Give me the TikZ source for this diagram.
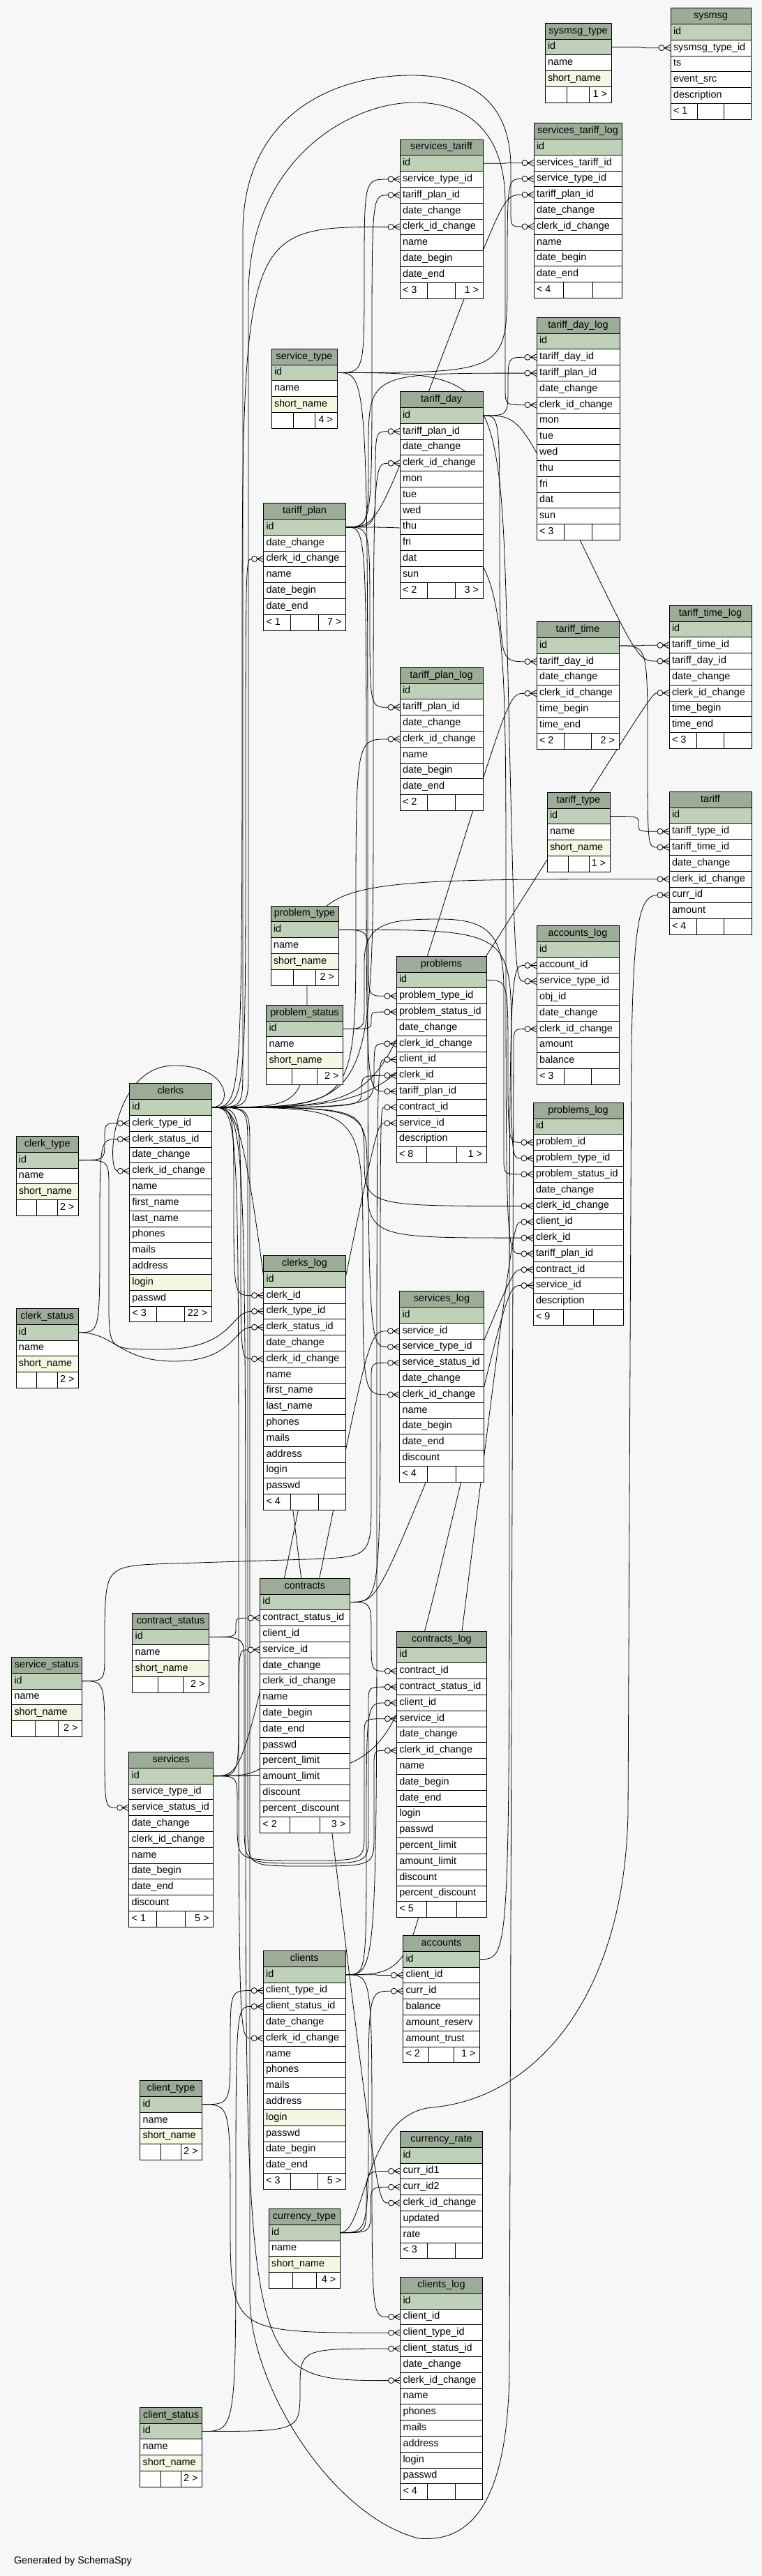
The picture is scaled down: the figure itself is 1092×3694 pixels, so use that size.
\documentclass[tikz,border=0pt]{standalone}
\usepackage{fontspec}
\setmainfont{Liberation Sans}
\usetikzlibrary{calc}
\definecolor{headcol}{HTML}{9DAC98}
\definecolor{keycol}{HTML}{BFD1B9}
\definecolor{ucol}{HTML}{F4F7E1}
\definecolor{bgcol}{HTML}{F7F7F7}
\pgfdeclarelayer{bgl}
\pgfdeclarelayer{edges}
\pgfsetlayers{bgl,edges,main}
\def\ukey{u}
\newcommand\dbtable[7]{%
  \node[tabhead,minimum width=#4] (#1) at (#2,#3) {\hbox to #4pt{\hfil\strut #1\hfil}};
  \foreach \fld/\knd [count=\i] in {#5}{%
    \edef\rowkind{\knd}%
    \ifnum\i=1 \def\rowfill{keycol}\else\ifx\rowkind\ukey\def\rowfill{ucol}\else\def\rowfill{white}\fi\fi
    \node[tabcell,fill=\rowfill,minimum width=#4] (#1-\fld) at (#2,{#3+\i*22.8}) {\hbox to #4pt{\strut\hskip4pt\fld\hfil}};
    \xdef\nrows{\i}}
  \pgfmathsetmacro\cw{#4/3}
  \pgfmathsetmacro\fy{#3+(\nrows+1)*22.8}
  \node[tabcell,minimum width=\cw] (#1-fl) at (#2,\fy) {\hbox to \cw pt{\strut\hskip4pt #6\hfil}};
  \node[tabcell,minimum width=\cw] (#1-fm) at ({#2+\cw},\fy) {};
  \node[tabcell,minimum width=\cw] (#1-fr) at ({#2+2*\cw},\fy) {\hbox to \cw pt{\strut\hfil #7\hskip6pt}};
}
\newcommand\crowmark[1]{%
  \draw[fkline] (#1.west) ++(-9,0) -- ++(9,-4.5) ++(-9,4.5) -- ++(9,0) ++(-9,0) -- ++(9,4.5);
  \draw[fkline,fill=bgcol] (#1.west) ++(-13,0) circle (4);}
\newcommand\fklink[4]{%
  \draw[fkline] let \p1=(#1-id.east), \p2=(#2.west) in
    (\p1) .. controls (#3pt,\y1) .. ({(#3+#4)/2*1pt},{(\y1+\y2)/2})
    .. controls (#4pt,\y2) .. ({\x2-17pt},\y2);
  \crowmark{#2}}

\begin{document}
\catcode`\_=12
\begin{tikzpicture}[x=1pt,y=-1pt,font=\fontsize{14.4}{17}\selectfont,
  tabcell/.style={draw,fill=white,line width=1pt,inner sep=0pt,outer sep=0pt,minimum height=22.8,anchor=north west},
  tabhead/.style={tabcell,fill=headcol},
  fkline/.style={line width=0.8pt}]
\useasboundingbox (0,0) rectangle (1092,3694);

\dbtable{sysmsg_type}{781}{33.3}{95}{id,name,short_name/u}{}{1 >}
\dbtable{sysmsg}{961}{11.7}{115}{id,sysmsg_type_id,ts,event_src,description}{< 1}{}
\dbtable{services_tariff}{573}{200}{119}{id,service_type_id,tariff_plan_id,date_change,clerk_id_change,name,date_begin,date_end}{< 3}{1 >}
\dbtable{services_tariff_log}{765}{176.7}{126}{id,services_tariff_id,service_type_id,tariff_plan_id,date_change,clerk_id_change,name,date_begin,date_end}{< 4}{}
\dbtable{tariff_day_log}{769}{455.3}{119}{id,tariff_day_id,tariff_plan_id,date_change,clerk_id_change,mon,tue,wed,thu,fri,dat,sun}{< 3}{}
\dbtable{service_type}{389}{500.3}{94}{id,name,short_name/u}{}{4 >}
\dbtable{tariff_day}{573}{561.7}{119}{id,tariff_plan_id,date_change,clerk_id_change,mon,tue,wed,thu,fri,dat,sun}{< 2}{3 >}
\dbtable{tariff_plan}{377.5}{721.7}{118}{id,date_change,clerk_id_change,name,date_begin,date_end}{< 1}{7 >}
\dbtable{tariff_time}{769}{891.7}{118}{id,tariff_day_id,date_change,clerk_id_change,time_begin,time_end}{< 2}{2 >}
\dbtable{tariff_time_log}{959}{868.3}{118}{id,tariff_time_id,tariff_day_id,date_change,clerk_id_change,time_begin,time_end}{< 3}{}
\dbtable{tariff_plan_log}{573}{957.3}{119}{id,tariff_plan_id,date_change,clerk_id_change,name,date_begin,date_end}{< 2}{}
\dbtable{tariff_type}{784}{1136.3}{90}{id,name,short_name/u}{}{1 >}
\dbtable{tariff}{959}{1135.3}{118}{id,tariff_type_id,tariff_time_id,date_change,clerk_id_change,curr_id,amount}{< 4}{}
\dbtable{problem_type}{388}{1299}{97}{id,name,short_name/u}{}{2 >}
\dbtable{problem_status}{381.5}{1441.3}{110}{id,name,short_name/u}{}{2 >}
\dbtable{problems}{568}{1371.3}{129}{id,problem_type_id,problem_status_id,date_change,clerk_id_change,client_id,clerk_id,tariff_plan_id,contract_id,service_id,description}{< 8}{1 >}
\dbtable{accounts_log}{769}{1327.4}{118}{id,account_id,service_type_id,obj_id,date_change,clerk_id_change,amount,balance}{< 3}{}
\dbtable{problems_log}{764}{1581.3}{129}{id,problem_id,problem_type_id,problem_status_id,date_change,clerk_id_change,client_id,clerk_id,tariff_plan_id,contract_id,service_id,description}{< 9}{}
\dbtable{clerk_type}{23}{1629.4}{89.5}{id,name,short_name/u}{}{2 >}
\dbtable{clerks}{185.4}{1553.8}{118}{id,clerk_type_id,clerk_status_id,date_change,clerk_id_change,name,first_name,last_name,phones,mails,address,login/u,passwd}{< 3}{22 >}
\dbtable{clerk_status}{23}{1876.5}{89.5}{id,name,short_name/u}{}{2 >}
\dbtable{clerks_log}{377.5}{1800.6}{118}{id,clerk_id,clerk_type_id,clerk_status_id,date_change,clerk_id_change,name,first_name,last_name,phones,mails,address,login,passwd}{< 4}{}
\dbtable{services_log}{572.5}{1851.7}{121}{id,service_id,service_type_id,service_status_id,date_change,clerk_id_change,name,date_begin,date_end,discount}{< 4}{}
\dbtable{contracts}{372.4}{2263.2}{129}{id,contract_status_id,client_id,service_id,date_change,clerk_id_change,name,date_begin,date_end,passwd,percent_limit,amount_limit,discount,percent_discount}{< 2}{3 >}
\dbtable{contract_status}{189.6}{2313.2}{110}{id,name,short_name/u}{}{2 >}
\dbtable{service_status}{16.5}{2376.4}{101}{id,name,short_name/u}{}{2 >}
\dbtable{services}{184.6}{2512.5}{121}{id,service_type_id,service_status_id,date_change,clerk_id_change,name,date_begin,date_end,discount}{< 1}{5 >}
\dbtable{contracts_log}{568.4}{2339.3}{129}{id,contract_id,contract_status_id,client_id,service_id,date_change,clerk_id_change,name,date_begin,date_end,login,passwd,percent_limit,amount_limit,discount,percent_discount}{< 5}{}
\dbtable{clients}{377.2}{2797.5}{118}{id,client_type_id,client_status_id,date_change,clerk_id_change,name,phones,mails,address,login/u,passwd,date_begin,date_end}{< 3}{5 >}
\dbtable{accounts}{577.5}{2775.4}{110}{id,client_id,curr_id,balance,amount_reserv,amount_trust}{< 2}{1 >}
\dbtable{client_type}{200.5}{2983.6}{89}{id,name,short_name/u}{}{2 >}
\dbtable{currency_type}{385.2}{3167.5}{102}{id,name,short_name/u}{}{4 >}
\dbtable{currency_rate}{573.5}{3056.4}{118}{id,curr_id1,curr_id2,clerk_id_change,updated,rate}{< 3}{}
\dbtable{clients_log}{573.5}{3265.4}{118}{id,client_id,client_type_id,client_status_id,date_change,clerk_id_change,name,phones,mails,address,login,passwd}{< 4}{}
\dbtable{client_status}{200.6}{3452.3}{89}{id,name,short_name/u}{}{2 >}

\node[anchor=base west] (credit) at (16.5,3676) {Generated by SchemaSpy};

\begin{pgfonlayer}{bgl}
  \fill[bgcol] (0,0) rectangle (1092,3694);
\end{pgfonlayer}

\begin{pgfonlayer}{edges}
% top of the schema
\fklink{sysmsg_type}{sysmsg-sysmsg_type_id}{920}{920}
\fklink{services_tariff}{services_tariff_log-services_tariff_id}{725}{725}
\fklink{service_type}{services_tariff-service_type_id}{522}{522}
\fklink{tariff_plan}{services_tariff-tariff_plan_id}{533}{533}
\fklink{clerks}{services_tariff-clerk_id_change}{347}{347}
\fklink{service_type}{services_tariff_log-service_type_id}{727}{727}
\fklink{tariff_plan}{services_tariff_log-tariff_plan_id}{540}{722}
\fklink{tariff_day}{tariff_day_log-tariff_day_id}{728}{728}
\fklink{tariff_plan}{tariff_day_log-tariff_plan_id}{528}{528}
\fklink{tariff_plan}{tariff_day-tariff_plan_id}{538}{538}
\fklink{clerks}{tariff_day-clerk_id_change}{535}{535}
\fklink{clerks}{tariff_plan-clerk_id_change}{352}{352}
\fklink{tariff_day}{tariff_time-tariff_day_id}{716}{716}
\fklink{tariff_day}{tariff_time_log-tariff_day_id}{745}{915}
\fklink{tariff_time}{tariff_time_log-tariff_time_id}{920}{920}
\fklink{clerks}{tariff_time-clerk_id_change}{545}{730}
\fklink{clerks}{tariff_time_log-clerk_id_change}{560}{935}
\fklink{tariff_plan}{tariff_plan_log-tariff_plan_id}{530}{530}
\fklink{clerks}{tariff_plan_log-clerk_id_change}{510}{510}
\fklink{tariff_type}{tariff-tariff_type_id}{915}{915}
\fklink{tariff_time}{tariff-tariff_time_id}{928}{928}
\fklink{clerks}{tariff-clerk_id_change}{440}{440}
\draw[fkline] let \p1=(clerks-id.east), \p2=(services_tariff_log-clerk_id_change.west) in
  (\p1) .. controls (348pt,\y1) .. (348pt,{\y1+60pt}) -- (348pt,-330pt)
  .. controls (350pt,-170pt) and (470pt,-108pt) .. (590pt,-108pt)
  .. controls (690pt,-108pt) and (732pt,-160pt) .. (732pt,-240pt)
  -- (732pt,{\y2+25pt}) .. controls (732pt,\y2) .. ({\x2-17pt},\y2);
\crowmark{services_tariff_log-clerk_id_change}
\draw[fkline] let \p1=(clerks-id.east), \p2=(tariff_day_log-clerk_id_change.west) in
  (\p1) .. controls (356pt,\y1) .. (356pt,{\y1+60pt}) -- (356pt,-420pt)
  .. controls (358pt,-230pt) and (500pt,-147pt) .. (594pt,-147pt)
  .. controls (680pt,-147pt) and (724pt,-200pt) .. (724pt,-290pt)
  -- (724pt,{\y2+25pt}) .. controls (724pt,\y2) .. ({\x2-17pt},\y2);
\crowmark{tariff_day_log-clerk_id_change}
% problems and accounts
\fklink{problem_type}{problems-problem_type_id}{528}{528}
\fklink{problem_status}{problems-problem_status_id}{532}{532}
\fklink{problem_type}{problems_log-problem_type_id}{733}{733}
\fklink{problems}{problems_log-problem_id}{728}{728}
\fklink{accounts}{accounts_log-account_id}{730}{730}
\fklink{service_type}{accounts_log-service_type_id}{718}{738}
\fklink{clerks}{problems-clerk_id_change}{536}{536}
\fklink{clients}{problems-client_id}{540}{540}
\fklink{clerks}{problems-clerk_id}{518}{518}
\fklink{tariff_plan}{problems-tariff_plan_id}{525}{525}
\fklink{contracts}{problems-contract_id}{545}{545}
\fklink{services}{problems-service_id}{350}{540}
\fklink{clerks}{problems_log-clerk_id_change}{522}{522}
\fklink{clerks}{problems_log-clerk_id}{526}{526}
\fklink{clients}{problems_log-client_id}{600}{736}
\fklink{tariff_plan}{problems_log-tariff_plan_id}{725}{725}
\fklink{contracts}{problems_log-contract_id}{540}{735}
\fklink{services}{problems_log-service_id}{560}{728}
\draw[fkline] let \p1=(problem_status-id.east), \p2=(problems_log-problem_status_id.west) in
  (\p1) .. controls (522pt,\y1) .. (522pt,{\y1+35pt}) -- (522pt,-1380pt)
  .. controls (522pt,-1322pt) and (560pt,-1318pt) .. (630pt,-1318pt)
  .. controls (700pt,-1318pt) and (722pt,-1340pt) .. (722pt,-1420pt)
  -- (722pt,{\y2+25pt}) .. controls (722pt,\y2) .. ({\x2-17pt},\y2);
\crowmark{problems_log-problem_status_id}
\draw[fkline] let \p1=(clerks-id.east), \p2=(accounts_log-clerk_id_change.west) in
  (\p1) .. controls (358pt,\y1) .. (358pt,{\y1-60pt}) -- (358pt,-3300pt)
  .. controls (362pt,-3430pt) and (480pt,-3610pt) .. (600pt,-3640pt)
  .. controls (690pt,-3648pt) and (728pt,-3560pt) .. (730pt,-3400pt)
  -- (736pt,{\y2-30pt}) .. controls (736pt,\y2) .. ({\x2-17pt},\y2);
\crowmark{accounts_log-clerk_id_change}
% clerks
\draw[fkline] let \p1=(clerks-id.east), \p2=(clerks-clerk_id_change.west) in
  (\p1) .. controls (335pt,\y1) and (330pt,-1528pt) .. (250pt,-1528pt)
  .. controls (160pt,-1528pt) and (152pt,\y2) .. ({\x2-17pt},\y2);
\crowmark{clerks-clerk_id_change}
\fklink{clerk_type}{clerks-clerk_type_id}{150}{150}
\fklink{clerk_status}{clerks-clerk_status_id}{143}{143}
\fklink{clerks}{clerks_log-clerk_id}{335}{335}
\fklink{clerks}{clerks_log-clerk_id_change}{345}{345}
\draw[fkline] let \p1=(clerk_type-id.east), \p2=(clerks_log-clerk_type_id.west) in
  (\p1) .. controls (156pt,\y1) .. (156pt,{\y1-40pt}) -- (156pt,-1885pt)
  .. controls (158pt,-1935pt) .. (230pt,-1935pt)
  .. controls (335pt,-1935pt) and (330pt,\y2) .. ({\x2-17pt},\y2);
\crowmark{clerks_log-clerk_type_id}
\draw[fkline] let \p1=(clerk_status-id.east), \p2=(clerks_log-clerk_status_id.west) in
  (\p1) .. controls (165pt,\y1) and (170pt,-1952pt) .. (250pt,-1952pt)
  .. controls (335pt,-1952pt) and (335pt,\y2) .. ({\x2-17pt},\y2);
\crowmark{clerks_log-clerk_status_id}
% services and contracts
\fklink{services}{services_log-service_id}{400}{530}
\fklink{service_type}{services_log-service_type_id}{527}{527}
\fklink{clerks}{services_log-clerk_id_change}{520}{520}
\fklink{service_status}{services-service_status_id}{150}{150}
\draw[fkline] let \p1=(service_status-id.east), \p2=(services_log-service_status_id.west) in
  (\p1) .. controls (150pt,\y1) .. (150pt,{\y1+40pt}) -- (150pt,-2330pt)
  .. controls (152pt,-2245pt) .. (250pt,-2242pt) -- (440pt,-2236pt)
  .. controls (532pt,-2233pt) .. (532pt,-2150pt)
  -- (532pt,{\y2-25pt}) .. controls (532pt,\y2) .. ({\x2-17pt},\y2);
\crowmark{services_log-service_status_id}
\fklink{contract_status}{contracts-contract_status_id}{338}{338}
\fklink{services}{contracts-service_id}{342}{342}
\fklink{contracts}{contracts_log-contract_id}{532}{532}
\fklink{clients}{contracts_log-client_id}{525}{525}
\draw[fkline] let \p1=(contract_status-id.east), \p2=(contracts_log-contract_status_id.west) in
  (\p1) .. controls (350pt,\y1) .. (350pt,{\y1-40pt}) -- (350pt,-2630pt)
  .. controls (352pt,-2672pt) .. (440pt,-2672pt) .. controls (528pt,-2672pt) .. (528pt,-2630pt)
  -- (528pt,{\y2-25pt}) .. controls (528pt,\y2) .. ({\x2-17pt},\y2);
\crowmark{contracts_log-contract_status_id}
\draw[fkline] let \p1=(services-id.east), \p2=(contracts_log-service_id.west) in
  (\p1) .. controls (340pt,\y1) .. (340pt,{\y1-40pt}) -- (340pt,-2628pt)
  .. controls (342pt,-2668pt) .. (440pt,-2668pt) .. controls (522pt,-2668pt) .. (522pt,-2628pt)
  -- (522pt,{\y2-25pt}) .. controls (522pt,\y2) .. ({\x2-17pt},\y2);
\crowmark{contracts_log-service_id}
\draw[fkline] let \p1=(clerks-id.east), \p2=(contracts_log-clerk_id_change.west) in
  (\p1) .. controls (355pt,\y1) .. (355pt,{\y1-60pt}) -- (355pt,-2632pt)
  .. controls (357pt,-2676pt) .. (440pt,-2676pt) .. controls (536pt,-2676pt) .. (536pt,-2632pt)
  -- (536pt,{\y2-25pt}) .. controls (536pt,\y2) .. ({\x2-17pt},\y2);
\crowmark{contracts_log-clerk_id_change}
% clients and currencies
\fklink{clients}{accounts-client_id}{540}{540}
\fklink{currency_type}{accounts-curr_id}{528}{528}
\fklink{currency_type}{currency_rate-curr_id1}{525}{525}
\fklink{currency_type}{currency_rate-curr_id2}{531}{531}
\fklink{clerks}{currency_rate-clerk_id_change}{350}{540}
\fklink{clients}{clients_log-client_id}{533}{533}
\fklink{client_type}{clients_log-client_type_id}{330}{330}
\fklink{client_status}{clients_log-client_status_id}{430}{430}
\fklink{clerks}{clients_log-clerk_id_change}{352}{352}
\fklink{client_type}{clients-client_type_id}{330}{330}
\fklink{client_status}{clients-client_status_id}{338}{338}
\fklink{clerks}{clients-clerk_id_change}{342}{342}
\draw[fkline] let \p1=(currency_type-id.east), \p2=(tariff-curr_id.west) in
  (\p1) .. controls (525pt,\y1) and (520pt,-3030pt) .. (620pt,-3022pt)
  .. controls (770pt,-3008pt) and (895pt,-2860pt) .. (900pt,-2600pt)
  -- (905pt,-1500pt) .. controls (908pt,-1330pt) and (915pt,\y2) .. ({\x2-17pt},\y2);
\crowmark{tariff-curr_id}
\end{pgfonlayer}
\end{tikzpicture}
\end{document}
